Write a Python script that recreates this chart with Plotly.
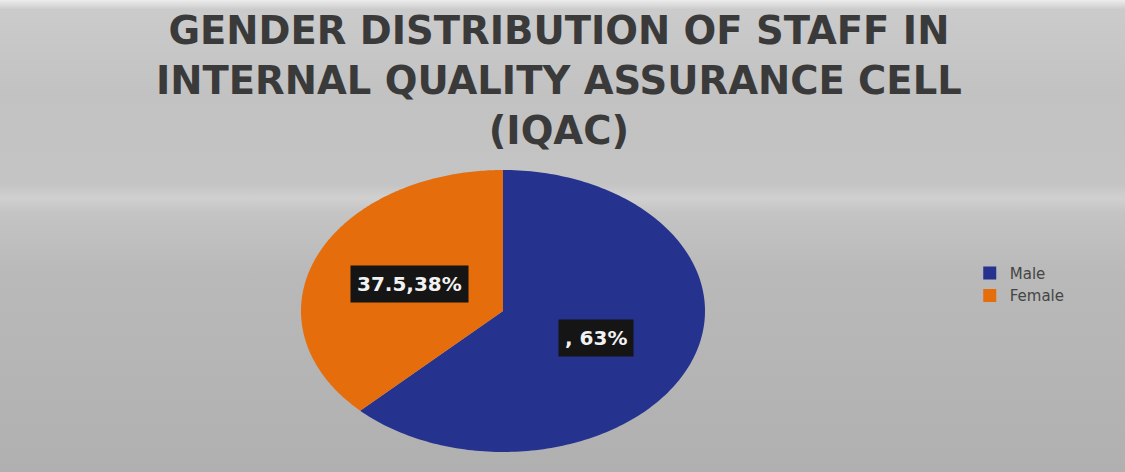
import numpy as np
import plotly.graph_objects as go

# data
genders = ["Male", "Female"]
values = [62.5, 37.5]
label_text = [", 63%", "37.5,38%"]
colors = ["#25338f", "#e56d0c"]

title = "GENDER DISTRIBUTION OF STAFF IN<br>INTERNAL QUALITY ASSURANCE CELL<br>(IQAC)"

W, H = 1125, 472
cx, cy = 503, 311      # pie centre in px (from top-left)
rx, ry = 202, 141      # the original picture is stretched, so the pie is an ellipse

xr = [-cx / rx, (W - cx) / rx]
yr = [-(H - cy) / ry, cy / ry]

fig = go.Figure()

# grey background with a soft vertical gradient
fig.add_trace(
    go.Scatter(
        x=[xr[0], xr[1], xr[1], xr[0], xr[0]],
        y=[yr[0], yr[0], yr[1], yr[1], yr[0]],
        fill="toself",
        mode="none",
        fillgradient=dict(
            type="vertical",
            colorscale=[
                [0.0, "#b0b0b0"],
                [0.42, "#b9b9b9"],
                [0.55, "#c4c4c4"],
                [0.58, "#d0d0d0"],
                [0.61, "#c4c4c4"],
                [0.8, "#c2c2c2"],
                [0.98, "#cbcbcb"],
                [1.0, "#ececec"],
            ],
        ),
        showlegend=False,
        hoverinfo="skip",
    )
)

total = sum(values)
start = 90.0
for name, v, txt, col in zip(genders, values, label_text, colors):
    sweep = 360.0 * v / total
    ang = np.radians(np.linspace(start, start - sweep, 200))
    xs = np.concatenate([[0], np.cos(ang), [0]])
    ys = np.concatenate([[0], np.sin(ang), [0]])
    fig.add_trace(
        go.Scatter(
            x=xs,
            y=ys,
            fill="toself",
            fillcolor=col,
            mode="none",
            name=name,
            legendgroup=name,
            showlegend=False,
            hoverinfo="name",
        )
    )
    # square legend key
    fig.add_trace(
        go.Scatter(
            x=[None],
            y=[None],
            mode="markers",
            marker=dict(symbol="square", size=13, color=col),
            name=name,
            legendgroup=name,
        )
    )
    mid = np.radians(start - sweep / 2)
    fig.add_annotation(
        x=0.5 * np.cos(mid),
        y=0.5 * np.sin(mid),
        text="<b>" + txt + "</b>",
        showarrow=False,
        font=dict(family="DejaVu Sans", size=20, color="#f2f2f2"),
        bgcolor="#151515",
        borderpad=6,
    )
    start -= sweep

# title as a paper annotation so it is not clipped
fig.add_annotation(
    xref="paper",
    yref="paper",
    x=0.497,
    y=1,
    yshift=-6,
    xanchor="center",
    yanchor="top",
    text="<b>" + title + "</b>",
    showarrow=False,
    font=dict(family="DejaVu Sans", size=38.5, color="#3a3a3a"),
)

fig.update_layout(
    width=W,
    height=H,
    margin=dict(l=0, r=0, t=0, b=0),
    paper_bgcolor="#bdbdbd",
    plot_bgcolor="#bdbdbd",
    xaxis=dict(range=xr, visible=False, fixedrange=True),
    yaxis=dict(range=yr, visible=False, fixedrange=True),
    legend=dict(
        x=0.862,
        y=0.398,
        xanchor="left",
        yanchor="middle",
        bgcolor="rgba(0,0,0,0)",
        font=dict(family="DejaVu Sans", size=15, color="#454545"),
        tracegroupgap=0,
        itemwidth=30,
    ),
)

fig.write_html(
    "out.html",
    config={"displayModeBar": False},
    post_script="document.body.style.margin='0';",
)
